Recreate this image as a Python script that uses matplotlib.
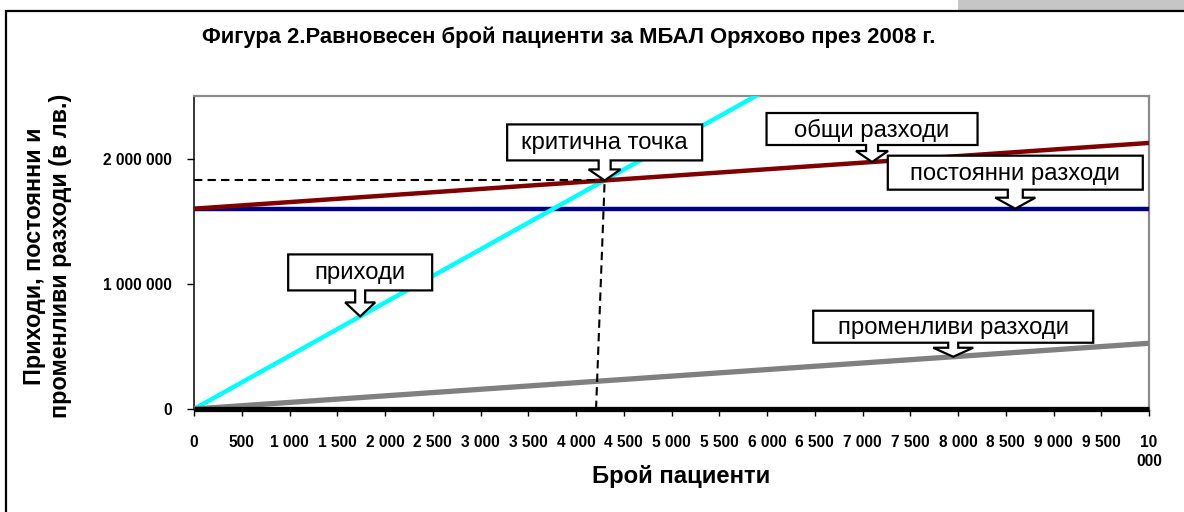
import numpy as np
import matplotlib
matplotlib.use("Agg")
import matplotlib.pyplot as plt
from matplotlib.patches import Polygon, Rectangle
from matplotlib.transforms import IdentityTransform

plt.rcParams['font.family'] = ['Liberation Sans', 'DejaVu Sans']

# --- data -------------------------------------------------------------
patients = [0, 500, 1000, 1500, 2000, 2500, 3000, 3500, 4000, 4500, 5000,
            5500, 6000, 6500, 7000, 7500, 8000, 8500, 9000, 9500, 10000]
x_tick_labels = ["0", "500", "1 000", "1 500", "2 000", "2 500", "3 000",
                 "3 500", "4 000", "4 500", "5 000", "5 500", "6 000",
                 "6 500", "7 000", "7 500", "8 000", "8 500", "9 000",
                 "9 500", "10\n000"]
revenue = [0, 212500, 425000, 637500, 850000, 1062500, 1275000, 1487500,
           1700000, 1912500, 2125000, 2337500, 2550000, 2762500, 2975000,
           3187500, 3400000, 3612500, 3825000, 4037500, 4250000]
fixed_costs = [1600000] * 21
variable_costs = [0, 26250, 52500, 78750, 105000, 131250, 157500, 183750,
                  210000, 236250, 262500, 288750, 315000, 341250, 367500,
                  393750, 420000, 446250, 472500, 498750, 525000]
total_costs = [1600000, 1626250, 1652500, 1678750, 1705000, 1731250,
               1757500, 1783750, 1810000, 1836250, 1862500, 1888750,
               1915000, 1941250, 1967500, 1993750, 2020000, 2046250,
               2072500, 2098750, 2125000]
zero_line = [0] * 21
y_ticks = [0, 1000000, 2000000]
y_tick_labels = ["0", "1 000 000", "2 000 000"]

break_even_x = 4300
break_even_y = 1827500
break_even_foot_x = 4210

# --- figure -------------------------------------------------------------
W, H = 1184, 512
fig = plt.figure(figsize=(W / 100, H / 100), dpi=100)
fig.patch.set_facecolor('white')

# outer frame and top strip
fig.patches.append(Rectangle((958 / W, 1 - 10 / H), 1, 10 / H,
                             transform=fig.transFigure, facecolor='#c6c6c6',
                             edgecolor='none', zorder=0))
fig.patches.append(Rectangle((6 / W, -0.2), 1.2, 1.2 - 11 / H,
                             transform=fig.transFigure, facecolor='none',
                             edgecolor='black', lw=1.6, zorder=1))

ax = fig.add_axes([194 / W, 1 - 409 / H, (1149 - 194) / W, (409 - 96) / H])
ax.set_xlim(0, 10000)
ax.set_ylim(0, 2500000)

ax.plot(patients, fixed_costs, color='#000080', lw=3.2, zorder=3,
        solid_capstyle='butt')
ax.plot(patients, revenue, color='#00ffff', lw=3.2, zorder=3,
        solid_capstyle='butt')
ax.plot(patients, total_costs, color='#800000', lw=3.2, zorder=3,
        solid_capstyle='butt')
ax.plot(patients, variable_costs, color='#808080', lw=3.8, zorder=3,
        solid_capstyle='butt')
ax.plot(patients, zero_line, color='black', lw=3.8, zorder=4,
        solid_capstyle='butt', clip_on=False)

# break-even guides
ax.plot([0, break_even_x], [break_even_y, break_even_y], color='black',
        lw=1.5, ls=(0, (4, 2.5)), zorder=5, clip_on=False)
ax.plot([break_even_foot_x, break_even_x], [0, break_even_y], color='black',
        lw=1.5, ls=(0, (4, 2.5)), zorder=5)

# axes styling
for side in ('top', 'right'):
    ax.spines[side].set_color('#8c8c8c')
    ax.spines[side].set_linewidth(1.6)
ax.spines['left'].set_color('black')
ax.spines['left'].set_linewidth(1.1)
ax.spines['bottom'].set_visible(False)

ax.set_xticks(patients)
ax.set_xticklabels(x_tick_labels, fontsize=11.2, fontweight='bold')
for lbl in ax.get_xticklabels():
    lbl.set_linespacing(1.3)
ax.set_yticks(y_ticks)
ax.set_yticklabels(y_tick_labels, fontsize=11.2, fontweight='bold')
ax.tick_params(axis='x', direction='out', length=5, width=1, pad=14)
ax.tick_params(axis='y', direction='out', length=5, width=1, pad=11)

fig.text(569 / W, 1 - 37 / H,
         "Фигура 2.Равновесен брой пациенти за МБАЛ Оряхово през 2008 г.",
         ha='center', va='center', fontsize=15.8, fontweight='bold')
fig.text(681 / W, 1 - 477 / H, "Брой пациенти", ha='center', va='center',
         fontsize=17.2, fontweight='bold')
fig.text(47.5 / W, 1 - 256 / H,
         "Приходи, постоянни и\nпроменливи разходи (в лв.)",
         ha='center', va='center', rotation=90, multialignment='center',
         fontsize=16.8, fontweight='bold', linespacing=1.2)

# --- callouts: box with a hollow down-arrow pointing at a series ---------
fig.canvas.draw()
ident = IdentityTransform()


def callout(text, x, series, width, height, gap, stem_w=12, head_w=32,
            head_len=11):
    y = np.interp(x, patients, series)
    tx, ty = ax.transData.transform((x, y))
    b = ty + gap
    t = b + height
    left, right = tx - width / 2, tx + width / 2
    hb = ty + head_len
    verts = [(left, b), (tx - stem_w / 2, b), (tx - stem_w / 2, hb),
             (tx - head_w / 2, hb), (tx, ty), (tx + head_w / 2, hb),
             (tx + stem_w / 2, hb), (tx + stem_w / 2, b), (right, b),
             (right, t), (left, t)]
    poly = Polygon(verts, closed=True, facecolor='white', edgecolor='black',
                   lw=1.6, transform=ident, clip_on=False, zorder=10,
                   joinstyle='miter')
    fig.patches.append(poly)
    fig.text(tx / W, (b + height / 2 - 1) / H, text, ha='center',
             va='center', fontsize=17.2, zorder=11)


callout("критична точка", break_even_x, total_costs, 195, 36, 20)
callout("общи разходи", 7100, total_costs, 211, 32, 17)
callout("постоянни разходи", 8600, fixed_costs, 255, 34, 19, stem_w=15,
        head_w=40)
callout("приходи", 1740, revenue, 144, 36, 26, stem_w=10, head_w=30,
        head_len=14)
callout("променливи разходи", 7950, variable_costs, 280, 32, 14, stem_w=10,
        head_w=40, head_len=9)

fig.savefig("out.png", dpi=100)
